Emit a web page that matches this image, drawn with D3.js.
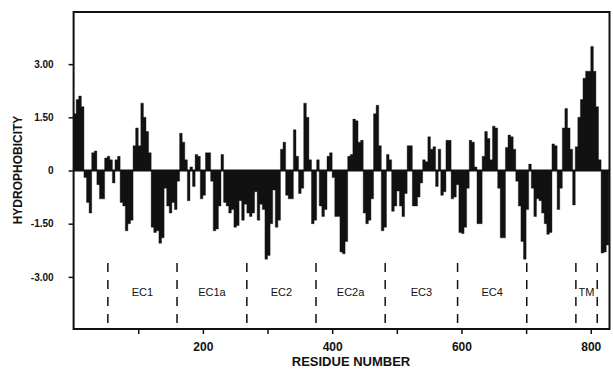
<!DOCTYPE html>
<html>
<head>
<meta charset="utf-8">
<script src="https://cdn.jsdelivr.net/npm/d3@7"></script>
<style>
  body { margin: 0; background: #fff; }
  svg { display: block; font-family: "Liberation Sans", Arial, Helvetica, sans-serif; }
</style>
</head>
<body>
<svg id="chart"></svg>
<script>
// Hydrophobicity profile, one value per window of STEP residues
const STEP = 4;
const hydrophobicity = [
  1.6, 2.0, 2.1, 1.8, -0.2, -0.9, -1.2, 0.5, 0.55, -0.4,
  -0.8, -0.8, 0.35, 0.4, 0.3, -0.35, 0.3, 0.4, -0.9, -1.0,
  -1.7, -1.5, -1.4, 0.7, 1.2, 0.7, 1.9, 1.5, 1.1, 0.5,
  -1.6, -1.75, -1.7, -2.05, -1.9,
  -0.5, -1.0, -1.2, -0.9, -1.1, -0.3, 1.05, 0.8, 0.3, -0.85,
  0.1, -0.45, 0.45, 0.4, -0.8, -0.7, 0.5, 0.5, -0.3, -1.7,
  -1.65, -1.0, 0.45, -0.9, -1.0, -1.2, -1.1, -1.6, -1.55, -0.85,
  -1.4, -0.95, -1.2, -1.3,
  -1.2, -0.6, -1.4, -0.95, -1.1, -2.5, -2.4, -1.5, -0.55, -1.6,
  -1.4, 0.6, 0.8, -0.7, -0.8, -0.8, 1.15, 0.4, -0.65, -0.5,
  1.9, 1.5, 0.3, -1.5, -1.4, 0.3, -1.0, -1.3, -1.1, 0.4,
  0.5, -0.2, -1.3, -1.3, -2.3, -2.35,
  -2.0, 0.4, 0.45, 1.45, 1.4, 0.8, 0.85, -1.2, -1.5, -1.4,
  -0.8, 1.6, 1.84, 0.7, -1.7, -1.6, 0.45, 0.3, -1.15, -1.0,
  -0.58, -1.0, -1.3, -0.65, 0.7, 0.7, -1.0, -1.0, -0.75, -0.35,
  0.3, 0.25, 0.95, 0.6,
  0.67, -0.45, 0.6, -0.7, -0.6, 0.85, 0.85, -0.8, -0.75, -0.4,
  -1.75, -1.78, -1.6, -0.5, 0.85, 0.8, 0.1, -1.5, -1.5, 0.4,
  1.1, 0.9, 0.3, 1.25, 1.2, -0.5, -1.9, -1.9, 0.65, 1.0,
  0.95, 0.6, -0.3, -1.0, -2.0, -2.5,
  -1.1, 0.18, -0.5, -1.3, -0.8, -0.85, -1.2, -1.5, -1.8, -1.75,
  0.75, 0.7, -1.1, -0.5, 1.2, 1.75, 1.2, 0.6, -0.97, 0.67,
  1.5, 2.0, 2.6, 2.8, 2.8, 3.5, 2.8, 1.8, 0.3, -2.33,
  -2.3, -2.1
];

const yTicks = [3, 1.5, 0, -1.5, -3];
const xTicks = [100, 200, 300, 400, 500, 600, 700, 800];
const xTickLabels = [200, 400, 600, 800];

// Domain boundaries (dashed lines) and the names written between them
const domainBounds = [53, 160, 268, 375, 482, 594, 701, 777, 810];
const domainNames = ["EC1", "EC1a", "EC2", "EC2a", "EC3", "EC4", "", "TM"];

const width = 613, height = 375;
const plot = { left: 73.6, right: 609.5, top: 12, bottom: 329 };

const svg = d3.select('#chart').attr('width', width).attr('height', height);

const x = d3.scaleLinear().domain([0, 829]).range([plot.left, plot.right]);
const y = d3.scaleLinear().domain([-4.47, 4.47]).range([plot.bottom, plot.top]);

const data = hydrophobicity.map((v, i) => ({ residue: i * STEP, value: v }));
// closing point so the last step has a width
data.push({ residue: hydrophobicity.length * STEP, value: hydrophobicity[hydrophobicity.length - 1] });

// Filled profile, stepped like the original bar trace
const area = d3.area()
  .x(d => x(d.residue))
  .y0(y(0))
  .y1(d => y(d.value))
  .curve(d3.curveStepAfter);

svg.append('path')
  .datum(data)
  .attr('d', area)
  .attr('fill', '#111')
  .attr('stroke', '#111')
  .attr('stroke-width', 0.4);

// Zero line
svg.append('line')
  .attr('x1', plot.left).attr('x2', plot.right)
  .attr('y1', y(0)).attr('y2', y(0))
  .attr('stroke', '#111').attr('stroke-width', 2.2);

// Domain separators
svg.append('g')
  .selectAll('line')
  .data(domainBounds)
  .join('line')
  .attr('x1', d => x(d)).attr('x2', d => x(d))
  .attr('y1', 263).attr('y2', plot.bottom)
  .attr('stroke', '#111')
  .attr('stroke-width', 1.5)
  .attr('stroke-dasharray', '9,8');

svg.append('g')
  .selectAll('text')
  .data(domainNames.map((n, i) => ({ name: n, mid: (domainBounds[i] + domainBounds[i + 1]) / 2 })))
  .join('text')
  .attr('x', d => x(d.mid))
  .attr('y', 296)
  .attr('text-anchor', 'middle')
  .attr('font-size', 11)
  .attr('fill', '#111')
  .text(d => d.name);

// Axes
const xAxis = svg.append('g')
  .attr('transform', `translate(0,${plot.bottom})`)
  .call(d3.axisBottom(x)
    .tickValues(xTicks)
    .tickSize(5)
    .tickPadding(8)
    .tickFormat(d => xTickLabels.includes(d) ? d : ''));

const yAxis = svg.append('g')
  .attr('transform', `translate(${plot.left},0)`)
  .call(d3.axisLeft(y)
    .tickValues(yTicks)
    .tickSize(5)
    .tickPadding(15)
    .tickFormat(d => d === 0 ? '0' : d.toFixed(2)));

[xAxis, yAxis].forEach(g => {
  g.select('.domain').remove();
  g.selectAll('.tick line').attr('stroke', '#111').attr('stroke-width', 1.5);
  g.selectAll('.tick text')
    .attr('fill', '#111')
    .attr('font-family', '"Liberation Sans", Arial, sans-serif')
    .attr('font-weight', 'bold');
});
xAxis.selectAll('.tick text').attr('font-size', 12);
yAxis.selectAll('.tick text').attr('font-size', 10);

// Frame
svg.append('rect')
  .attr('x', plot.left).attr('y', plot.top)
  .attr('width', plot.right - plot.left)
  .attr('height', plot.bottom - plot.top)
  .attr('fill', 'none')
  .attr('stroke', '#111')
  .attr('stroke-width', 2);

// Axis titles
svg.append('text')
  .attr('transform', 'translate(22,170) rotate(-90)')
  .attr('text-anchor', 'middle')
  .attr('font-size', 12)
  .attr('font-weight', 'bold')
  .attr('fill', '#111')
  .text('HYDROPHOBICITY');

svg.append('text')
  .attr('x', 351).attr('y', 366)
  .attr('text-anchor', 'middle')
  .attr('font-size', 13)
  .attr('font-weight', 'bold')
  .attr('fill', '#111')
  .text('RESIDUE NUMBER');
</script>
</body>
</html>
